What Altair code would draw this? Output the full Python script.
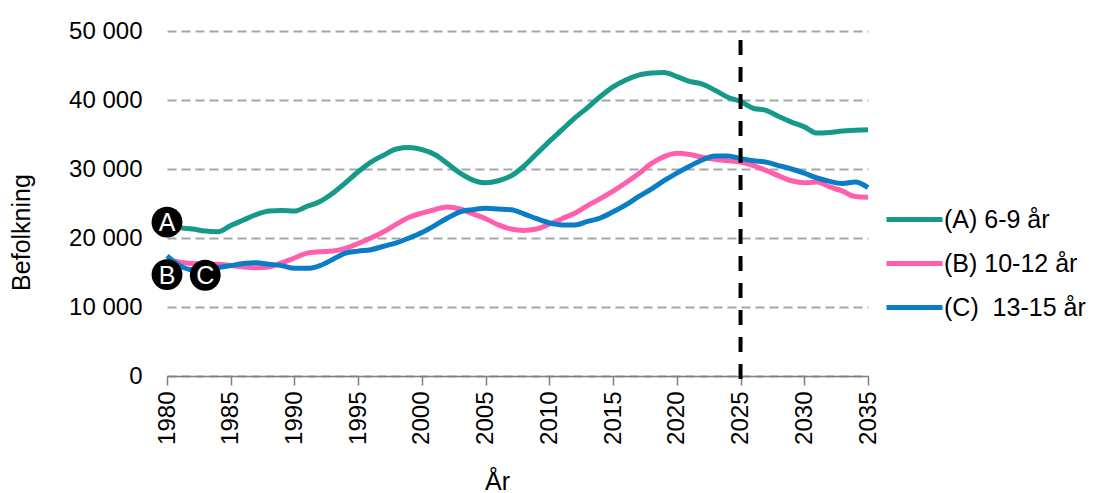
import altair as alt
import pandas as pd

years = list(range(1980, 2036))

# (A) 6-9 år, thousands
a_vals = [21.9, 21.5, 21.3, 21.0, 20.9, 21.8, 22.6, 23.4, 23.9, 24.0,
          23.9, 24.6, 25.3, 26.5, 28.0, 29.6, 31.0, 32.0, 32.9, 33.1,
          32.8, 32.1, 30.8, 29.4, 28.4, 28.0, 28.3, 29.0, 30.4, 32.2,
          34.0, 35.7, 37.4, 38.9, 40.5, 41.9, 42.9, 43.6, 43.9, 44.0,
          43.4, 42.7, 42.3, 41.4, 40.4, 39.8, 38.8, 38.5, 37.6, 36.8,
          36.1, 35.2, 35.3, 35.5, 35.6, 35.7]
# (B) 10-12 år
b_vals = [16.8, 16.5, 16.3, 16.2, 16.2, 16.0, 15.8, 15.7, 15.8, 16.4,
          17.1, 17.8, 18.0, 18.1, 18.5, 19.2, 20.0, 20.9, 22.0, 23.0,
          23.6, 24.1, 24.5, 24.2, 23.5, 22.8, 21.9, 21.3, 21.1, 21.3,
          22.0, 22.8, 23.6, 24.7, 25.7, 26.8, 28.0, 29.3, 30.8, 31.8,
          32.3, 32.1, 31.7, 31.4, 31.2, 31.0, 30.5, 29.8, 29.0, 28.3,
          28.0, 28.1, 27.4, 26.8, 26.0, 25.9]
# (C) 13-15 år
c_vals = [17.4, 16.0, 15.4, 15.5, 15.7, 16.0, 16.3, 16.4, 16.2, 16.0,
          15.6, 15.6, 16.0, 16.9, 17.8, 18.1, 18.3, 18.8, 19.3, 20.0,
          20.8, 21.8, 22.9, 23.8, 24.1, 24.3, 24.2, 24.1, 23.5, 22.8,
          22.2, 21.9, 21.9, 22.4, 22.9, 23.8, 24.8, 26.0, 27.1, 28.3,
          29.4, 30.4, 31.3, 31.9, 31.9, 31.5, 31.2, 31.0, 30.5, 30.0,
          29.4, 28.7, 28.2, 27.9, 28.1, 27.3]

series_names = ["(A) 6-9 år", "(B) 10-12 år", "(C)\u00a0 13-15 år"]
series_colors = ["#14998b", "#ff5fac", "#0b7cc6"]

marker_letters = ["A", "B", "C"]
marker_years = [1980, 1980, 1983]
marker_values = [22300, 14700, 14600]

forecast_year = [2025]
forecast_top = [48700]
forecast_bottom = [-1300]

x_ticks = list(range(1980, 2036, 5))
y_ticks = [0, 10000, 20000, 30000, 40000, 50000]

FONT = "Liberation Sans"

rows = []
for name, vals in zip(series_names, [a_vals, b_vals, c_vals]):
    for yr, v in zip(years, vals):
        rows.append({"year": yr, "value": v * 1000, "series": name})
df = pd.DataFrame(rows)

mk_df = pd.DataFrame({"year": marker_years, "value": marker_values, "letter": marker_letters})
rule_df = pd.DataFrame({"year": forecast_year, "value": forecast_top, "value2": forecast_bottom})

x_scale = alt.Scale(domain=[1980, 2035], nice=False, zero=False)
y_scale = alt.Scale(domain=[0, 50000], nice=False)

lines = alt.Chart(df).mark_line(strokeWidth=5, interpolate="monotone").encode(
    x=alt.X("year:Q", scale=x_scale, axis=alt.Axis(
        values=x_ticks, format="d", labelAngle=-90, labelAlign="right", labelBaseline="middle",
        labelFontSize=24, labelPadding=6, labelColor="black", tickSize=9, tickColor="#808080",
        tickWidth=1.5, domainColor="#808080", domainWidth=1.5, grid=False,
        title="År", titleFontSize=25, titleFontWeight="normal", titleColor="black",
        titleX=330, titleY=113, titleAlign="center", titleBaseline="alphabetic")),
    y=alt.Y("value:Q", scale=y_scale, axis=alt.Axis(
        values=y_ticks, labelExpr="replace(format(datum.value, ','), ',', ' ')",
        domain=False, ticks=False, grid=True, gridColor="#a6a6a6", gridDash=[9, 5], gridWidth=2,
        labelFontSize=24, labelPadding=25, labelColor="black",
        title="Befolkning", titleFontSize=25, titleFontWeight="normal", titleColor="black",
        titleX=-138, titleY=201, titleAlign="center", titleBaseline="alphabetic")),
    color=alt.Color("series:N", scale=alt.Scale(domain=series_names, range=series_colors),
                    legend=alt.Legend(orient="none", legendX=717, legendY=172, title=None,
                                      symbolType="M-1,0H3", symbolSize=784, symbolStrokeWidth=5,
                                      labelFontSize=25, labelOffset=27, rowPadding=14, padding=0,
                                      labelColor="black", labelFont=FONT, labelLimit=300)),
)

rule = alt.Chart(rule_df).mark_rule(color="black", strokeWidth=4, strokeDash=[15, 12]).encode(
    x=alt.X("year:Q", scale=x_scale),
    y=alt.Y("value:Q", scale=y_scale),
    y2="value2:Q",
)

circles = alt.Chart(mk_df).mark_circle(size=950, color="black", opacity=1).encode(
    x=alt.X("year:Q", scale=x_scale),
    y=alt.Y("value:Q", scale=y_scale),
)

letters = alt.Chart(mk_df).mark_text(color="white", fontSize=25, font=FONT, align="center",
                                      baseline="middle", dy=1).encode(
    x=alt.X("year:Q", scale=x_scale),
    y=alt.Y("value:Q", scale=y_scale),
    text="letter:N",
)

chart = alt.layer(lines, rule, circles, letters).properties(
    width=701, height=345,
    autosize=alt.AutoSizeParams(type="none"),
    padding={"left": 159, "top": 23, "right": 223, "bottom": 125},
    background="white",
).configure(font=FONT).configure_view(stroke=None)

chart.save("out.html", embed_options={"renderer": "svg", "actions": False})
